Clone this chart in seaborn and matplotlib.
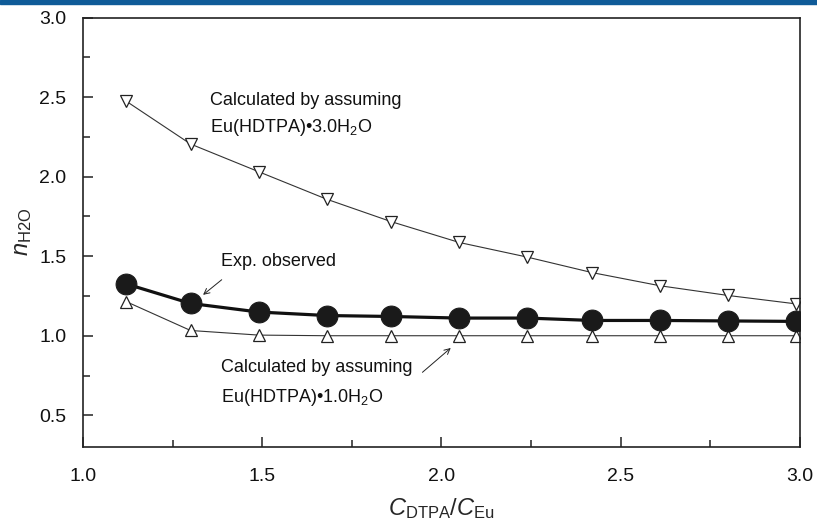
import numpy as np
import pandas as pd
import matplotlib
matplotlib.use("Agg")
import matplotlib.pyplot as plt
from matplotlib.patches import Rectangle
from matplotlib.ticker import MultipleLocator, FormatStrFormatter
import seaborn as sns

# ── data ─────────────────────────────────────────────────────────────────────
ratio = [1.12, 1.30, 1.49, 1.68, 1.86, 2.05, 2.24, 2.42, 2.61, 2.80, 2.99]
n_exp = [1.326, 1.203, 1.149, 1.127, 1.121, 1.111, 1.111, 1.096, 1.096, 1.093, 1.090]
n_calc_3h2o = [2.475, 2.205, 2.031, 1.858, 1.717, 1.586, 1.494, 1.397, 1.314, 1.253, 1.200]
n_calc_1h2o = [1.215, 1.033, 1.004, 1.0, 1.0, 1.0, 1.0, 1.0, 1.0, 1.0, 1.0]

# ── style ────────────────────────────────────────────────────────────────────
sns.set_style("ticks")
plt.rcParams["font.family"] = ["Liberation Sans", "DejaVu Sans"]
plt.rcParams["mathtext.fontset"] = "custom"
plt.rcParams["mathtext.rm"] = "Liberation Sans"
plt.rcParams["mathtext.it"] = "Liberation Sans:italic"

fig = plt.figure(figsize=(8.17, 5.31), dpi=100)
ax = fig.add_axes([0.1016, 0.158, 0.8774, 0.809])

# journal header bar
fig.patches.append(Rectangle((0, 1 - 4 / 531), 1, 4 / 531, transform=fig.transFigure,
                             color="#0f5b98", zorder=0))

thin = "#333333"
sns.lineplot(x=ratio, y=n_calc_3h2o, ax=ax, color=thin, lw=0.8, marker="v",
             markersize=8, markerfacecolor="white", markeredgecolor="#222222",
             markeredgewidth=0.9, zorder=2)
sns.lineplot(x=ratio, y=n_calc_1h2o, ax=ax, color=thin, lw=0.8, marker="^",
             markersize=8, markerfacecolor="white", markeredgecolor="#222222",
             markeredgewidth=0.9, zorder=2)
sns.lineplot(x=ratio, y=n_exp, ax=ax, color="#111111", lw=2.3, marker="o",
             markersize=15, markerfacecolor="#1a1a1a", markeredgecolor="#1a1a1a",
             zorder=3)

ax.set_xlim(1.0, 3.0)
ax.set_ylim(0.3, 3.0)
ax.xaxis.set_major_locator(MultipleLocator(0.5))
ax.xaxis.set_minor_locator(MultipleLocator(0.25))
ax.yaxis.set_major_locator(MultipleLocator(0.5))
ax.yaxis.set_minor_locator(MultipleLocator(0.25))
ax.xaxis.set_major_formatter(FormatStrFormatter("%.1f"))
ax.yaxis.set_major_formatter(FormatStrFormatter("%.1f"))
ax.tick_params(which="both", direction="in", width=1.1, colors="#222222",
               labelsize=14, labelcolor="#111111")
ax.tick_params(which="major", length=7)
ax.tick_params(which="minor", length=5)
ax.tick_params(axis="x", which="major", pad=15)
ax.tick_params(axis="y", which="major", pad=12)
for s in ax.spines.values():
    s.set_visible(True)
    s.set_linewidth(1.2)
    s.set_color("#222222")

ax.set_xlabel(r"$C_{\mathrm{DTPA}}/C_{\mathrm{Eu}}$", fontsize=17, labelpad=8)
ax.set_ylabel(r"$n_{\mathrm{H2O}}$", fontsize=17, labelpad=4)

# annotations
txt_kw = dict(fontsize=13, color="#111111", va="center", ha="left")
ax.text(1.354, 2.48, "Calculated by assuming", **txt_kw)
ax.text(1.354, 2.31, "Eu(HDTPA)•3.0H$_2$O", **txt_kw)
ax.text(1.385, 1.465, "Exp. observed", **txt_kw)
ax.text(1.385, 0.80, "Calculated by assuming", **txt_kw)
ax.text(1.385, 0.61, "Eu(HDTPA)•1.0H$_2$O", **txt_kw)

arrow = dict(arrowstyle="->", lw=0.7, color="#222222", shrinkA=0, shrinkB=0)
ax.annotate("", xy=(1.335, 1.257), xytext=(1.387, 1.352), arrowprops=arrow)
ax.annotate("", xy=(2.026, 0.923), xytext=(1.947, 0.77), arrowprops=arrow)

fig.savefig("out.png", dpi=100)
